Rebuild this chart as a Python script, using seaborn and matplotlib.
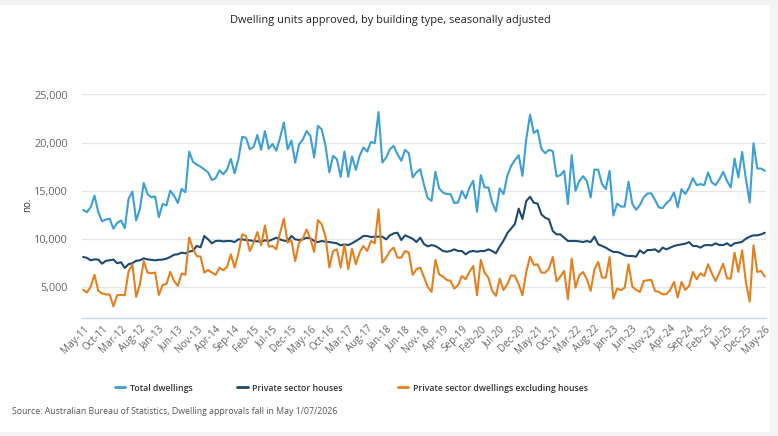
import matplotlib
matplotlib.use('Agg')
import matplotlib.pyplot as plt
import matplotlib.patches as mpatches
from matplotlib.ticker import FuncFormatter
import seaborn as sns
import numpy as np
import pandas as pd

# monthly, May-11 .. May-26 (seasonally adjusted, no.)
start_month = '2011-05'

total_dwellings = [
    13000, 12760, 13280, 14480, 12760, 11800, 12000, 12070, 11040, 11650,
    11900, 11100, 14140, 14900, 11900, 13100, 15800, 14650, 14300, 14400,
    12240, 13620, 13450, 15000, 14480, 13720, 15170, 14830, 19070, 18000,
    17700, 17500, 17200, 16900, 16100, 16300, 17100, 16700, 17200, 18300,
    16800, 18300, 20600, 20500, 19300, 19550, 20800, 19250, 21200, 19350,
    19850, 19150, 20500, 22100, 19300, 20200, 17900, 19800, 20300, 21200,
    20700, 18440, 21730, 21380, 19650, 16890, 18620, 18270, 16440, 19070,
    16440, 18550, 17160, 18620, 19480, 19070, 20070, 19930, 23180, 17920,
    18440, 19310, 19650, 18790, 18100, 19240, 18890, 16370, 16890, 17230,
    15600, 14220, 13940, 16960, 15230, 14810, 14640, 14640, 13700, 13770,
    14980, 14190, 15330, 16020, 12800, 16610, 15330, 15330, 13770, 12840,
    15230, 14640, 16540, 17580, 18170, 18690, 16540, 20350, 22900, 21000,
    21300, 19350, 18890, 19240, 19100, 16470, 16610, 17060, 13600, 18690,
    14980, 16000, 16500, 16000, 14290, 17200, 17160, 15680, 15160, 17060,
    12420, 13650, 13340, 13340, 15930, 13650, 13010, 13500, 14300, 14700,
    14720, 14030, 13250, 13180, 13700, 14050, 14810, 13250, 15160, 14640,
    15330, 16300, 15570, 15680, 15570, 16890, 15850, 15570, 16190, 16960,
    16020, 15330, 18340, 16370, 19030, 16190, 13770, 19930, 17300, 17300,
    17060,
]

private_houses = [
    8100, 8000, 7750, 7850, 7830, 7400, 7700, 7750, 7830, 7450,
    7550, 6950, 7350, 7450, 7700, 7750, 7960, 7850, 7800, 7750,
    7800, 7830, 7920, 8100, 8330, 8380, 8550, 8480, 8650, 8750,
    9250, 9100, 10280, 9930, 9520, 9760, 9790, 9720, 9760, 9760,
    9650, 9930, 9930, 9860, 9830, 9760, 9720, 9690, 9830, 9760,
    9930, 10100, 9930, 9790, 9760, 10280, 9930, 9860, 9930, 10100,
    10030, 9760, 9650, 9760, 9690, 9650, 9580, 9520, 9310, 9410,
    9340, 9520, 9760, 10000, 10280, 10280, 10170, 10210, 10210, 10210,
    9930, 10350, 10550, 10620, 9860, 10350, 10170, 10000, 9650, 10100,
    9450, 9200, 9340, 9240, 9000, 8720, 8650, 8720, 8890, 8720,
    8720, 8370, 8650, 8720, 8650, 8720, 8720, 8890, 8720, 8480,
    9200, 9800, 10580, 11050, 11540, 13130, 12050, 13910, 14360, 13740,
    13650, 12530, 12180, 12010, 10800, 10450, 10450, 10100, 9760, 9760,
    9760, 9720, 9650, 9760, 9650, 10210, 9410, 9240, 9070, 8820,
    8620, 8620, 8480, 8270, 8200, 8200, 8130, 8790, 8480, 8820,
    8820, 8890, 8620, 9070, 8890, 9070, 9240, 9340, 9410, 9480,
    9650, 9240, 9240, 9070, 9310, 9340, 9310, 9520, 9340, 9340,
    9520, 9240, 9520, 9580, 9690, 10000, 10210, 10350, 10350, 10450,
    10620,
]

private_other = [
    4700, 4400, 5000, 6250, 4580, 4300, 4200, 4200, 2950, 4120,
    4150, 4120, 6580, 7340, 3950, 5270, 7690, 6480, 6400, 6480,
    4150, 5200, 5270, 6550, 5600, 5090, 6370, 6250, 10130, 8950,
    8200, 8130, 6470, 6750, 6470, 6230, 6990, 6710, 7060, 8370,
    6990, 8480, 10450, 10280, 8720, 9580, 10690, 9310, 11380, 9170,
    9240, 8890, 10620, 12080, 9580, 9830, 7680, 9580, 10000, 10970,
    10000, 8620, 11940, 11490, 10210, 7000, 8720, 8890, 7000, 9410,
    6820, 8960, 7340, 8550, 9240, 8720, 9760, 9520, 13040, 7510,
    8030, 8720, 9070, 8030, 8030, 8720, 8550, 6230, 6820, 7000,
    6000, 4980, 4460, 7790, 6300, 6060, 5710, 5610, 4810, 5160,
    6120, 5780, 6540, 7160, 4120, 7790, 6470, 5950, 4570, 4050,
    5850, 4670, 5260, 6190, 6120, 5260, 4120, 6540, 8130, 7270,
    7340, 6470, 6470, 6890, 8100, 5570, 6060, 6640, 3700, 7920,
    4910, 6190, 6540, 5780, 4570, 6820, 7580, 5950, 5950, 8100,
    3770, 4810, 4640, 4910, 7340, 5020, 4670, 4460, 5600, 5680,
    5710, 4570, 4460, 4220, 4220, 4670, 5500, 3880, 5500, 4670,
    5090, 6540, 5780, 6400, 6120, 7340, 6400, 5600, 6470, 7400,
    5880, 5850, 8550, 6540, 8790, 5430, 3460, 9310, 6540, 6640,
    6060,
]

series_names = ['Total dwellings', 'Private sector houses',
                'Private sector dwellings excluding houses']
series_colors = ['#3c9fd8', '#1c4a72', '#e5801f']

months = pd.date_range(start_month, periods=len(total_dwellings), freq='MS')
month_labels = [m.strftime('%b-%y') for m in months]
tick_step = 5

df = pd.DataFrame({
    'month': np.arange(len(months)),
    series_names[0]: total_dwellings,
    series_names[1]: private_houses,
    series_names[2]: private_other,
}).melt(id_vars='month', var_name='series', value_name='value')

sns.set_theme(style="white")
font = ['Open Sans', 'DejaVu Sans']
plt.rcParams['font.family'] = font

W, H = 778, 436
fig = plt.figure(figsize=(W / 100, H / 100), dpi=100)
fig.patch.set_facecolor('#f3f3f3')
fig.patches.append(mpatches.Rectangle((0, 1 - 432 / H), 770 / W, (432 - 5) / H,
                                      transform=fig.transFigure, facecolor='white',
                                      edgecolor='none', zorder=-10))

ax = fig.add_axes([82 / W, 1 - 318 / H, (766 - 82) / W, (318 - 94.5) / H])
ax.set_facecolor('white')

sns.lineplot(data=df, x='month', y='value', hue='series', hue_order=series_names,
             palette=series_colors, linewidth=1.5, ax=ax, legend=False)

ax.set_xlim(-0.3, len(months) - 0.7)
ax.set_ylim(1750, 25000)
ax.set_yticks([5000, 10000, 15000, 20000, 25000])
ax.yaxis.set_major_formatter(FuncFormatter(lambda v, p: f'{int(v):,}'))
ax.grid(axis='y', color='#e6e6e6', linewidth=0.9)
ax.set_axisbelow(True)

tick_pos = np.arange(0, len(months), tick_step)
ax.set_xticks(tick_pos)
ax.set_xticklabels([month_labels[i] for i in tick_pos], rotation=45, ha='right',
                   rotation_mode='anchor', fontsize=7.2, color='#666666')
ax.tick_params(axis='x', length=0, pad=4)
ax.tick_params(axis='y', length=0, pad=10, labelsize=7.8, labelcolor='#666666')

for s in ['top', 'right', 'left']:
    ax.spines[s].set_visible(False)
ax.spines['bottom'].set_color('#ccd6eb')
ax.spines['bottom'].set_linewidth(1)

ax.set_xlabel('')
ax.set_ylabel('')
fig.text(28 / W, 1 - 205 / H, 'no.', rotation=90, ha='center', va='center',
         fontsize=7, color='#333333')

fig.text(390 / W, 1 - 20 / H, 'Dwelling units approved, by building type, seasonally adjusted',
         ha='center', va='center', fontsize=7.9, color='#222222', weight='medium')

# legend items sit at uneven spacing, one small legend per series
legend_x = [115, 237, 398]
for name, color, lx in zip(series_names, series_colors, legend_x):
    h = plt.Line2D([], [], color=color, linewidth=2)
    fig.legend([h], [name], loc='center left', bbox_to_anchor=(lx / W, 1 - 388 / H),
               frameon=False, handlelength=1.2, handletextpad=0.5,
               prop={'size': 6.3, 'weight': 'semibold'},
               labelcolor='#333333', borderpad=0, borderaxespad=0)

fig.text(12 / W, 1 - 411 / H,
         'Source: Australian Bureau of Statistics, Dwelling approvals fall in May 1/07/2026',
         ha='left', va='center', fontsize=6.3, color='#555555')

fig.savefig('out.png', dpi=100)
plt.close(fig)
